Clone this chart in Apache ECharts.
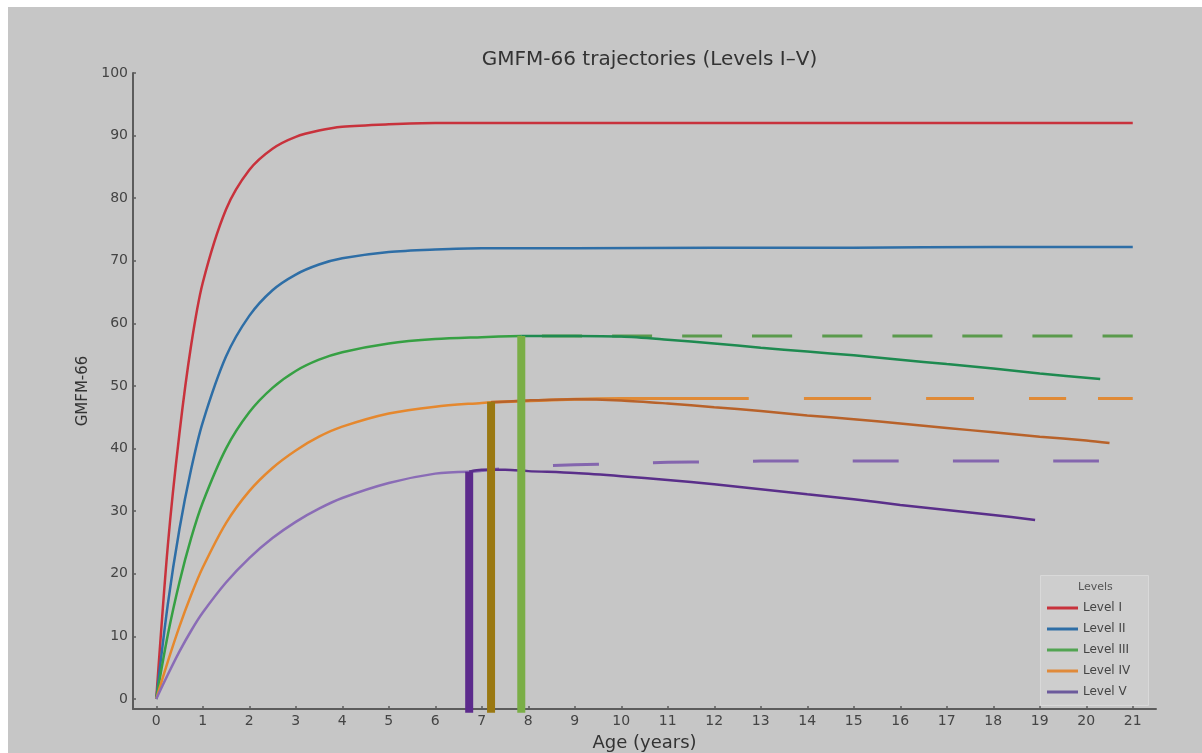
<!DOCTYPE html>
<html>
<head>
<meta charset="utf-8">
<script src="https://cdn.jsdelivr.net/npm/echarts@6/dist/echarts.min.js"></script>
<style>
  html, body { margin: 0; padding: 0; background: #ffffff; }
  #chart { position: absolute; left: 8px; top: 7px; width: 1194px; height: 746px; background: #c6c6c6; }
</style>
</head>
<body>
<div id="chart"></div>
<script>
// GMFM-66 scores by age (years) for the five GMFCS levels.
const levelNames = ['Level I', 'Level II', 'Level III', 'Level IV', 'Level V'];

const level1 = [[0,0],[0.25,24.6],[0.5,42.5],[0.75,56.5],[1,66.5],[1.5,78.2],[2,84.5],[2.5,87.9],[3,89.8],[3.5,90.8],[4,91.4],[5,91.8],[6,92.0],[8,92.0],[10,92.0],[12,92.0],[14,92.0],[16,92.0],[18,92.0],[21,92.0]];
const level2 = [[0,0],[0.25,15.2],[0.5,27.2],[0.75,36.7],[1,44.2],[1.5,54.7],[2,61.2],[2.5,65.3],[3,67.8],[3.5,69.4],[4,70.4],[5,71.4],[6,71.8],[7,72.0],[9,72.0],[12,72.1],[15,72.1],[18,72.2],[21,72.2]];

// Levels III–V: rise to peak, later decline, and the no-decline projection.
const level3Rise = [[0,0],[0.25,10.3],[0.5,18.7],[0.75,25.7],[1,31.4],[1.5,40.0],[2,45.8],[2.5,49.7],[3,52.4],[3.5,54.2],[4,55.4],[5,56.8],[6,57.5],[7,57.8],[7.85,58.0]];
const level3Fall = [[7.85,58.0],[9,58.0],[10,57.9],[11,57.4],[12,56.8],[13,56.1],[14,55.5],[15,54.9],[16,54.2],[17,53.5],[18,52.8],[19,52.0],[20.3,51.1]];
const level3Plateau = [[7.85,58.0],[21,58.0]];

const level4Rise = [[0,0],[0.25,6.0],[0.5,11.6],[0.75,16.6],[1,21.0],[1.5,28.1],[2,33.2],[2.5,36.9],[3,39.7],[3.5,41.9],[4,43.5],[5,45.6],[6,46.7],[7,47.3],[7.2,47.4]];
const level4Fall = [[7.2,47.4],[8,47.7],[9,47.9],[10,47.7],[11,47.2],[12,46.6],[13,46.0],[14,45.3],[15,44.7],[16,44.0],[17,43.3],[18,42.6],[19,41.9],[20,41.3],[20.5,40.9]];
const level4Plateau = [[7.2,47.4],[9,47.9],[10,48.0],[21,48.0]];

const level5Rise = [[0,0],[0.25,3.9],[0.5,7.6],[0.75,10.9],[1,13.8],[1.5,18.6],[2,22.5],[2.5,25.7],[3,28.3],[3.5,30.4],[4,32.1],[5,34.5],[6,36.0],[6.73,36.3]];
const level5Fall = [[6.73,36.3],[7,36.6],[7.5,36.6],[8,36.4],[9,36.1],[10,35.6],[11,35.0],[12,34.3],[13,33.5],[14,32.7],[15,31.9],[16,31.0],[17,30.2],[18,29.4],[18.9,28.6]];
const level5Plateau = [[6.73,36.3],[8,37.1],[9,37.4],[10,37.6],[11,37.8],[12,37.9],[13,38.0],[21,38.0]];

// Peak age and peak score for Levels III, IV, V.
const peakAges = [7.85, 7.2, 6.73];
const peakScores = [58.0, 47.5, 36.3];

const xTicks = [0,1,2,3,4,5,6,7,8,9,10,11,12,13,14,15,16,17,18,19,20,21];
const yTicks = [0,10,20,30,40,50,60,70,80,90,100];

const FONT = 'DejaVu Sans';
const Y_MIN = -1.6;
const BAR_FOOT = -2.2;   // peak markers run just past the x axis line
const GRID = { left: 125, right: 46, top: 66, bottom: 44 };

function curve(name, data, color, width, dash, dashOffset) {
  return {
    name: name, type: 'line', data: data, showSymbol: false, symbol: 'none',
    smooth: 0.3,
    lineStyle: { color: color, width: width || 2.5, type: dash || 'solid', dashOffset: dashOffset || 0, cap: 'butt' },
    itemStyle: { color: color },
    emphasis: { disabled: true }, z: 3
  };
}
function peakBar(i, color) {
  return {
    type: 'line', data: [[peakAges[i], BAR_FOOT], [peakAges[i], peakScores[i]]],
    showSymbol: false, symbol: 'none', clip: false,
    lineStyle: { color: color, width: 8, cap: 'butt' },
    emphasis: { disabled: true }, z: 4, silent: true
  };
}

const el = document.getElementById('chart');
const chart = echarts.init(el, null, { renderer: 'canvas' });
// title sits centred over the plotting area, not the whole canvas
const plotCentre = GRID.left + (el.clientWidth - GRID.left - GRID.right) / 2;

chart.setOption({
  backgroundColor: '#c6c6c6',
  animation: false,
  title: {
    text: 'GMFM-66 trajectories (Levels I\u2013V)',
    left: plotCentre, textAlign: 'center', top: 38,
    textStyle: { fontFamily: FONT, fontSize: 20, fontWeight: 'normal', color: '#333333' }
  },
  grid: Object.assign({ containLabel: false, outerBoundsMode: 'none' }, GRID),
  xAxis: {
    type: 'value', min: -0.5, max: 21.5,
    name: 'Age (years)', nameLocation: 'middle', nameGap: 25,
    nameTextStyle: { fontFamily: FONT, fontSize: 18, color: '#333333' },
    axisLine: { show: true, onZero: false, lineStyle: { color: '#5c5c5c', width: 2 } },
    axisTick: { show: true, inside: true, length: 3, customValues: xTicks, lineStyle: { color: '#5c5c5c', width: 1.5 } },
    axisLabel: { customValues: xTicks, margin: 5, fontFamily: FONT, fontSize: 14, color: '#444444' },
    splitLine: { show: false }
  },
  yAxis: {
    type: 'value', min: Y_MIN, max: 100,
    name: 'GMFM-66', nameLocation: 'middle', nameGap: 40,
    nameTextStyle: { fontFamily: FONT, fontSize: 15, color: '#333333' },
    axisLine: { show: true, onZero: false, lineStyle: { color: '#5c5c5c', width: 2 } },
    axisTick: { show: true, inside: true, length: 3, customValues: yTicks, lineStyle: { color: '#5c5c5c', width: 1.5 } },
    axisLabel: { customValues: yTicks, margin: 5, fontFamily: FONT, fontSize: 14, color: '#444444' },
    splitLine: { show: false }
  },
  legend: {
    orient: 'vertical', left: 1034, top: 589,
    icon: 'rect', itemWidth: 31, itemHeight: 3, itemGap: 7,
    textStyle: { fontFamily: FONT, fontSize: 12, color: '#444444', lineHeight: 14 },
    data: [
      { name: levelNames[0], itemStyle: { color: '#c8323c' } },
      { name: levelNames[1], itemStyle: { color: '#2e6ea6' } },
      { name: levelNames[2], itemStyle: { color: '#52a452' } },
      { name: levelNames[3], itemStyle: { color: '#e08a3a' } },
      { name: levelNames[4], itemStyle: { color: '#6c5a9c' } }
    ]
  },
  graphic: [
    { type: 'rect', left: 1032, top: 568, z: 0,
      shape: { width: 108, height: 130 },
      style: { fill: 'rgba(206,206,206,0.9)', stroke: '#d9d9d9', lineWidth: 1 } },
    { type: 'text', left: 1070, top: 575, z: 1,
      style: { text: 'Levels', font: '11px "DejaVu Sans"', fill: '#555555' } }
  ],
  series: [
    curve(levelNames[0], level1, '#c8323c'),
    curve(levelNames[1], level2, '#2e6ea6'),
    curve(levelNames[2], level3Plateau, '#5a9a4c', 3, [40, 30], 49),
    curve(levelNames[3], level4Plateau, '#e08a36', 3, [258, 55, 67, 55, 48, 55, 37, 32, 40, 100], 0),
    curve(levelNames[4], level5Plateau, '#8466ae', 3, [46, 54], 16),
    curve(levelNames[2], level3Rise, '#36a043'),
    curve(levelNames[2], level3Fall, '#1e8a50'),
    curve(levelNames[3], level4Rise, '#e5882e'),
    curve(levelNames[3], level4Fall, '#b8622a'),
    curve(levelNames[4], level5Rise, '#8a6cb6'),
    curve(levelNames[4], level5Fall, '#5a2f8a'),
    peakBar(2, '#5c2a8c'),
    peakBar(1, '#9a7812'),
    peakBar(0, '#7aae46')
  ]
});
</script>
</body>
</html>
